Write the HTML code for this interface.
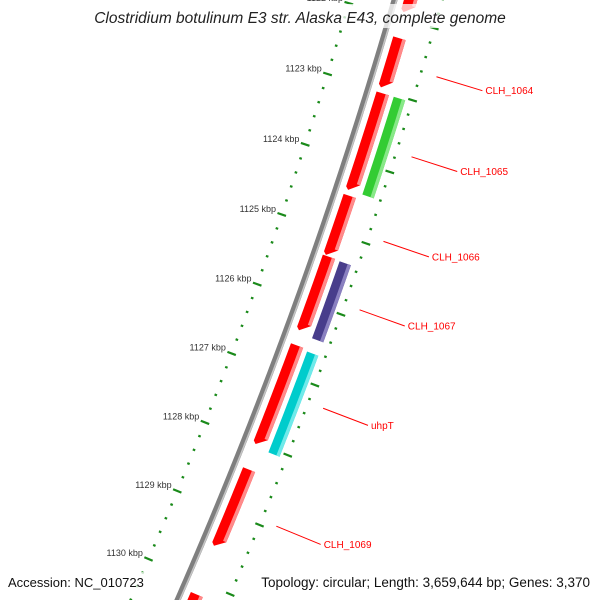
<!DOCTYPE html>
<html><head><meta charset="utf-8"><style>
html,body{margin:0;padding:0;background:#fff;width:600px;height:600px;overflow:hidden;}
svg{display:block;font-family:"Liberation Sans",sans-serif;overflow:hidden;}
</style></head><body>
<svg id="map" width="600" height="600" viewBox="0 0 600 600">
<g id="ticks"></g>
<g id="backbone"></g>
<g id="genes"></g>
<g id="labels"></g>
<rect x="88" y="4" width="424" height="24" fill="#fff" fill-opacity="0.75"/>
<text x="300" y="23" text-anchor="middle" font-size="15.5" font-style="italic" fill="#222">Clostridium botulinum E3 str. Alaska E43, complete genome</text>
<rect x="4" y="572" width="142" height="22" fill="#fff" fill-opacity="0.75"/>
<text x="8" y="587" font-size="13" fill="#111">Accession: NC_010723</text>
<rect x="256" y="572" width="340" height="22" fill="#fff" fill-opacity="0.75"/>
<text x="590" y="587" text-anchor="end" font-size="13.5" fill="#111">Topology: circular; Length: 3,659,644 bp; Genes: 3,370</text>
</svg>
<script>
// ---- data (kbp) ----
const tickStart = 1121;
const tickEnd = 1131.4;
const redStarts = [1121.3, 1122.26, 1123.03, 1124.47, 1125.33, 1126.59, 1128.37, 1130.18];
const redEnds   = [1121.91, 1122.96, 1124.40, 1125.32, 1126.39, 1128.02, 1129.49, 1131.2];
const ring2Starts = [1123.03, 1125.34, 1126.62];
const ring2Ends   = [1124.40, 1126.43, 1128.06];
const ring2Kinds  = ["green", "purple", "cyan"];
const labelNames = ["CLH_1064", "CLH_1065", "CLH_1066", "CLH_1067", "uhpT", "CLH_1069"];
const labelPos   = [1122.61, 1123.72, 1124.90, 1125.86, 1127.25, 1128.93];

// ---- geometry ----
const CX = -4266, CY = -1346, A0 = 0.2998, AK = 0.01537;
const R = 4851;
const NS = "http://www.w3.org/2000/svg";
function ang(k){ return A0 + AK * (k - 1123); }
function pt(r, k){ const a = ang(k); return [CX + r * Math.cos(a), CY + r * Math.sin(a)]; }
function mk(tag, parent, attrs){ const e = document.createElementNS(NS, tag); for (const a in attrs) e.setAttribute(a, attrs[a]); parent.appendChild(e); return e; }
function arcPts(r, s, e){ const out = []; const n = Math.max(2, Math.ceil((e - s) / 0.05)); for (let i = 0; i <= n; i++) out.push(pt(r, s + (e - s) * i / n)); return out; }
function ptsStr(a){ return a.map(p => p[0].toFixed(2) + "," + p[1].toFixed(2)).join(" "); }

// backbone
const bb = document.getElementById("backbone");
const bbMain = mk("polyline", bb, {points: ptsStr(arcPts(R, tickStart, tickEnd)), fill: "none", stroke: "#7f7f7f", "stroke-width": 6});


const bbHi = mk("polyline", bb, {points: ptsStr(arcPts(R + 2, tickStart, tickEnd)), fill: "none", stroke: "#c4c4c4", "stroke-width": 1.6});



// ticks
const tg = document.getElementById("ticks");
const ringRadii = [4808, 4897];
for (let i = 0; i <= Math.round((tickEnd - tickStart) * 5); i++) {
  const k = tickStart + i * 0.2;
  const major = i % 5 === 0;
  const len = major ? 4.5 : 1.3;
  ringRadii.forEach((rr) => {
    const p1 = pt(rr - len, k), p2 = pt(rr + len, k);
    const t = mk("line", tg, {x1: p1[0], y1: p1[1], x2: p2[0], y2: p2[1], stroke: "#1a8a1a", "stroke-width": 2.2});
    
    
  });
  if (major) {
    const p = pt(4808 - 5, k);
    const lab = mk("text", tg, {x: (p[0] - 1).toFixed(1), y: (p[1] - 1).toFixed(1), "text-anchor": "end", "font-size": "9", fill: "#333"});
    lab.textContent = Math.round(k) + " kbp";
    
    
  }
}

// genes
const gg = document.getElementById("genes");
const colors = {
  red:    {body: "#ff0000", light: "#ff8a8a", dark: "#d00000"},
  green:  {body: "#33cc33", light: "#88e888", dark: "#1f9e1f"},
  purple: {body: "#483d8b", light: "#8a80c0", dark: "#352c6e"},
  cyan:   {body: "#00cccc", light: "#70eaea", dark: "#009999"}
};
function drawGene(s, e, ri, ro, arrow, c, name){
  const ah = 0.107;
  let poly;
  if (arrow) {
    const outer = arcPts(ro, s, e - ah);
    const tip = [pt(ri + 3, e)];
    const inner = arcPts(ri, s, e - ah * 0.35).reverse();
    poly = outer.concat(tip, inner);
  } else {
    poly = arcPts(ro, s, e).concat(arcPts(ri, s, e).reverse());
  }
  const g = mk("polygon", gg, {points: ptsStr(poly), fill: c.body});
  
  
  const ee = arrow ? e - ah : e;
  const hl = arcPts(ro, s, ee).concat(arcPts(ro - 3.5, s, ee).reverse());
  const h = mk("polygon", gg, {points: ptsStr(hl), fill: c.light});
  
  
}
for (let i = 0; i < redStarts.length; i++) drawGene(redStarts[i], redEnds[i], 4860, 4873, true, colors.red, 'gene-red-' + i);
for (let i = 0; i < ring2Starts.length; i++) drawGene(ring2Starts[i], ring2Ends[i], 4878, 4890, false, colors[ring2Kinds[i]], 'gene-' + ring2Kinds[i]);

// labels
const lg = document.getElementById("labels");
for (let i = 0; i < labelNames.length; i++) {
  const a = pt(4913, labelPos[i]), b = pt(4961, labelPos[i]);
  const l = mk("line", lg, {x1: a[0], y1: a[1], x2: b[0], y2: b[1], stroke: "#ff0000", "stroke-width": 1});
  
  
  const t = mk("text", lg, {x: (b[0] + 3).toFixed(1), y: (b[1] + 3.5).toFixed(1), "font-size": "10", fill: "#ff0000"});
  t.textContent = labelNames[i];
  
  
}
</script>
</body></html>
